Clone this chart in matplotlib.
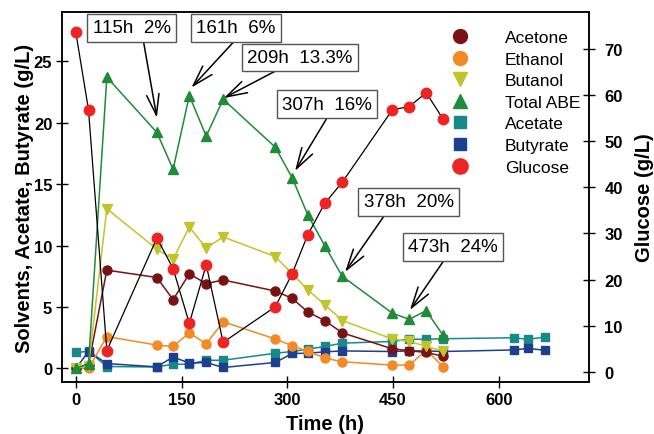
import matplotlib
matplotlib.use("Agg")
import matplotlib.pyplot as plt
from matplotlib.lines import Line2D

plt.rcParams['font.family'] = ['Liberation Sans', 'DejaVu Sans']

# ---- data ----
time_h = [0, 18, 44, 115, 138, 161, 185, 209, 283, 307, 329, 353, 378, 449, 473, 497, 521]
time_acid = time_h + [622, 641, 666]

acetone = [0, 0.3, 8.0, 7.4, 5.6, 7.7, 6.9, 7.2, 6.3, 5.7, 4.6, 3.9, 2.9, 1.6, 1.45, 1.3, 1.0]
ethanol = [0, 0, 2.6, 1.9, 1.8, 2.9, 2.0, 3.8, 2.4, 1.85, 1.4, 0.85, 0.55, 0.27, 0.27, 1.5, 0.15]
butanol = [0, 0.2, 13.0, 9.7, 8.9, 11.5, 9.8, 10.7, 9.1, 7.7, 6.4, 5.2, 3.9, 2.4, 2.2, 1.8, 1.4]
total_abe = [0, 0.4, 23.7, 19.2, 16.2, 22.2, 18.9, 21.9, 18.0, 15.5, 12.5, 10.0, 7.5, 4.5, 4.0, 4.7, 2.7]
acetate = [1.3, 1.4, 0.16, 0.12, 0.35, 0.35, 0.67, 0.67, 1.24, 1.38, 1.57, 1.79, 2.06,
           2.2, 2.38, 2.38, 2.42, 2.5, 2.37, 2.56]
butyrate = [0, 1.38, 0.4, 0.13, 0.94, 0.43, 0.49, 0.08, 0.49, 1.22, 1.24, 1.35, 1.43,
            1.38, 1.43, 1.43, 1.38, 1.51, 1.63, 1.48]
glucose = [73.6, 56.8, 4.6, 29.0, 22.4, 10.5, 23.2, 6.4, 14.1, 21.3, 29.7, 36.5, 41.1,
           56.8, 57.5, 60.5, 54.8]

annot_labels = ["115h  2%", "161h  6%", "209h  13.3%", "307h  16%", "378h  20%", "473h  24%"]
annot_text_xy = [(79, 27.7), (227, 27.7), (318, 25.3), (356, 21.5), (472, 13.55), (535, 9.9)]
annot_tail_xy = [(96, 26.6), (226, 26.7), (290, 24.4), (356, 20.35), (439, 12.55), (524, 8.94)]
annot_tip_xy = [(115, 20.4), (164, 22.85), (210, 22.0), (311, 16.07), (382, 7.85), (474, 4.76)]

x_ticks = [0, 150, 300, 450, 600]
y_ticks_left = [0, 5, 10, 15, 20, 25]
y_ticks_right = [0, 10, 20, 30, 40, 50, 60, 70]

# ---- colours ----
c_acetone = '#7a1214'
c_ethanol = '#f28a26'
c_butanol = '#c2c42c'
c_abe = '#1f8b3b'
c_acetate = '#178a88'
c_butyrate = '#1e3f8e'
c_glucose = '#ee2424'

W, H = 654, 435
fig = plt.figure(figsize=(W / 100, H / 100), dpi=100)
L, R, T, B = 62, 589, 13, 383
ax = fig.add_axes([L / W, 1 - B / H, (R - L) / W, (B - T) / H])
ax2 = ax.twinx()

lw = 1.1
ax.plot(time_acid, acetate, color=c_acetate, marker='s', ms=6, lw=lw, zorder=2)
ax.plot(time_acid, butyrate, color=c_butyrate, marker='s', ms=6, lw=lw, zorder=2)
ax.plot(time_h, ethanol, color=c_ethanol, marker='o', ms=6.5, lw=lw, zorder=3)
ax.plot(time_h, acetone, color=c_acetone, marker='o', ms=6.5, lw=lw, zorder=3)
ax.plot(time_h, butanol, color=c_butanol, marker='v', ms=7, lw=lw, zorder=3)
ax.plot(time_h, total_abe, color=c_abe, marker='^', ms=7, lw=lw, zorder=3)
ax2.plot(time_h, glucose, color='black', lw=0.9, marker='o', ms=7.5,
         mfc=c_glucose, mec=c_glucose, zorder=4)

ax.set_xlim(-19.6, 728)
ax.set_ylim(-1.1, 29.0)
ax2.set_ylim(-2.2, 78.0)
ax.set_xticks(x_ticks)
ax.set_yticks(y_ticks_left)
ax2.set_yticks(y_ticks_right)

for a in (ax, ax2):
    for sp in a.spines.values():
        sp.set_linewidth(1.1)
ax.tick_params(axis='both', direction='inout', length=8, width=1.0, labelsize=12, pad=3)
ax2.tick_params(axis='y', direction='inout', length=8, width=1.0, labelsize=12, pad=7)
for lab in ax.get_xticklabels() + ax.get_yticklabels() + ax2.get_yticklabels():
    lab.set_fontweight('bold')

ax.set_xlabel('Time (h)', fontsize=14.5, fontweight='bold', labelpad=5)
ax.set_ylabel('Solvents, Acetate, Butyrate (g/L)', fontsize=14.5, fontweight='bold', labelpad=0)
ax2.set_ylabel('Glucose (g/L)', fontsize=14.5, fontweight='bold', labelpad=9)

# annotations
for lab, txy, tail, tip in zip(annot_labels, annot_text_xy, annot_tail_xy, annot_tip_xy):
    ax2.annotate('', xy=tip, xytext=tail, xycoords=ax.transData, textcoords=ax.transData,
                 arrowprops=dict(arrowstyle='->,head_length=1.5,head_width=0.45',
                                 lw=1.1, color='black', shrinkA=0, shrinkB=0), zorder=6)
    ax2.text(txy[0], txy[1], lab, transform=ax.transData, fontsize=13.5,
             ha='center', va='center', zorder=7,
             bbox=dict(boxstyle='square,pad=0.28', fc='white', ec='#555555', lw=1.0))

# legend
handles = [
    Line2D([], [], ls='none', marker='o', ms=10, color=c_acetone),
    Line2D([], [], ls='none', marker='o', ms=10, color=c_ethanol),
    Line2D([], [], ls='none', marker='v', ms=10, color=c_butanol),
    Line2D([], [], ls='none', marker='^', ms=10, color=c_abe),
    Line2D([], [], ls='none', marker='s', ms=8.5, color=c_acetate),
    Line2D([], [], ls='none', marker='s', ms=8.5, color=c_butyrate),
    Line2D([], [], ls='none', marker='o', ms=11, color=c_glucose),
]
labels = ['Acetone', 'Ethanol', 'Butanol', 'Total ABE', 'Acetate', 'Butyrate', 'Glucose']
leg = ax2.legend(handles, labels, loc='upper left',
                 bbox_to_anchor=(451 / W, 1 - 31 / H), bbox_transform=fig.transFigure,
                 frameon=False, fontsize=12.5, handlelength=1.0, handletextpad=2.1,
                 labelspacing=0.37, borderpad=0, borderaxespad=0)
leg.set_zorder(8)

fig.savefig('out.png', dpi=100)
